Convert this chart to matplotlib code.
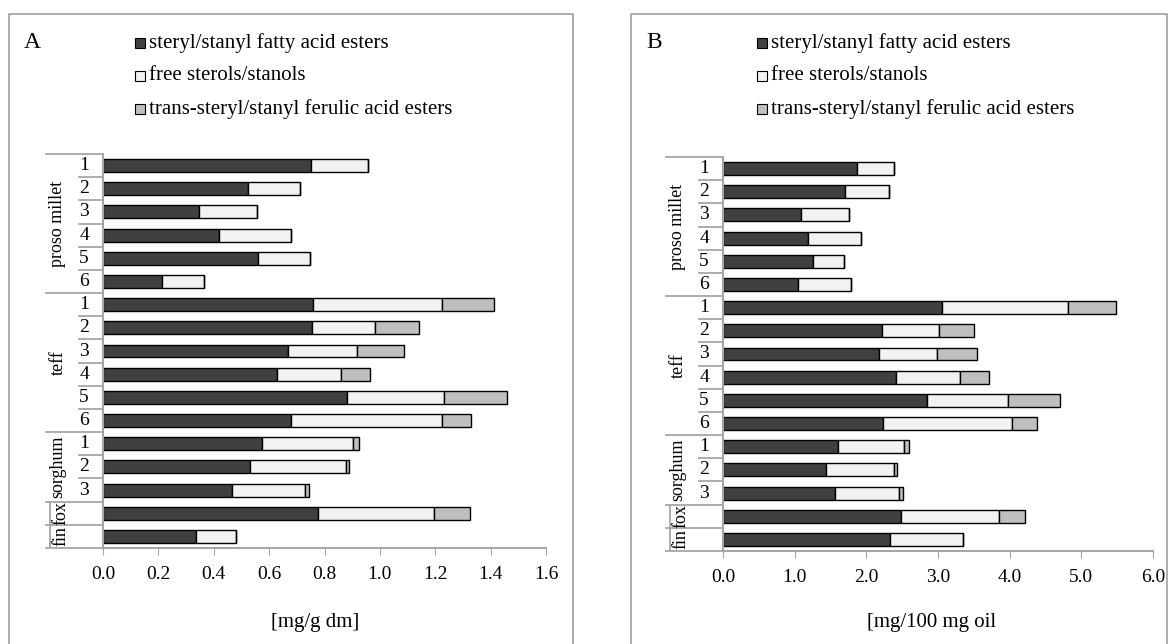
import matplotlib
matplotlib.use('Agg')
import matplotlib.pyplot as plt
from matplotlib.lines import Line2D
from matplotlib.patches import Rectangle

plt.rcParams['font.family'] = ['Liberation Serif', 'DejaVu Serif']

# categories (two-level axis, top to bottom)
groups = ['proso millet', 'teff', 'sorghum', 'fox', 'fin']
group_sizes = [6, 6, 3, 1, 1]
row_labels = ['1', '2', '3', '4', '5', '6',
              '1', '2', '3', '4', '5', '6',
              '1', '2', '3', '', '']

series_names = ['steryl/stanyl fatty acid esters',
                'free sterols/stanols',
                'trans-steryl/stanyl ferulic acid esters']
colors = ['#404040', '#f2f2f2', '#bfbfbf']

# panel A [mg/g dm]
a_esters = [0.750, 0.522, 0.345, 0.419, 0.560, 0.214,
            0.758, 0.755, 0.667, 0.629, 0.882, 0.679,
            0.574, 0.530, 0.465, 0.775, 0.335]
a_free = [0.207, 0.189, 0.211, 0.259, 0.189, 0.149,
          0.465, 0.228, 0.249, 0.230, 0.349, 0.544,
          0.329, 0.346, 0.263, 0.419, 0.146]
a_ferulic = [0, 0, 0, 0, 0, 0,
             0.190, 0.159, 0.171, 0.107, 0.227, 0.107,
             0.022, 0.013, 0.017, 0.132, 0]

# panel B [mg/100 mg oil]
b_esters = [1.867, 1.709, 1.090, 1.190, 1.250, 1.043,
            3.060, 2.220, 2.175, 2.420, 2.845, 2.235,
            1.606, 1.440, 1.565, 2.490, 2.330]
b_free = [0.517, 0.606, 0.670, 0.740, 0.436, 0.737,
          1.750, 0.790, 0.815, 0.890, 1.131, 1.795,
          0.924, 0.944, 0.895, 1.365, 1.020]
b_ferulic = [0, 0, 0, 0, 0, 0,
             0.680, 0.495, 0.550, 0.400, 0.724, 0.350,
             0.070, 0.046, 0.050, 0.355, 0]

W, H = 1169, 644
fig = plt.figure(figsize=(W / 100, H / 100), dpi=100)
GRAY = '#a6a6a6'


def px_rect(x0, y0, x1, y1):
    return [x0 / W, 1 - y1 / H, (x1 - x0) / W, (y1 - y0) / H]


def fig_line(xs, ys):
    fig.add_artist(Line2D([x / W for x in xs], [1 - y / H for y in ys],
                          color=GRAY, lw=1.3))


def draw_panel(box, axrect, series, ticks, ticklabels, xlabel, xlabel_x, letter):
    bx0, bx1 = box
    fig_line([bx0, bx0, bx1, bx1], [H + 5, 14, 14, H + 5])
    fig.text((bx0 + 15) / W, 1 - 43 / H, letter, fontsize=17, va='center', ha='left')

    # legend
    lx = bx0 + 126
    for k, (name, c) in enumerate(zip(series_names, colors)):
        ly = 43 + k * 33
        fig.add_artist(Rectangle(((lx) / W, 1 - (ly + 5) / H), 10 / W, 10 / H,
                                 facecolor=c, edgecolor='black', lw=0.8))
        fig.text((lx + 14) / W, 1 - ly / H, name, fontsize=15, va='center', ha='left')

    ax = fig.add_axes(px_rect(*axrect))
    n = len(row_labels)
    ys = list(range(n))
    left = [0] * n
    for vals, c in zip(series, colors):
        ax.barh(ys, vals, left=left, height=0.56, color=c, edgecolor='black', lw=1.0)
        left = [l + v for l, v in zip(left, vals)]

    ax.set_ylim(n - 0.5, -0.5)
    ax.set_xlim(ticks[0], ticks[-1])
    ax.set_xticks(ticks)
    ax.set_xticklabels(ticklabels, fontsize=14)
    ax.tick_params(axis='x', direction='out', length=5, color=GRAY, pad=8)
    ax.set_yticks([])
    for s in ['top', 'right']:
        ax.spines[s].set_visible(False)
    for s in ['left', 'bottom']:
        ax.spines[s].set_color(GRAY)
        ax.spines[s].set_linewidth(1.5)

    ax_w = axrect[2] - axrect[0]

    def fx(px):
        return px / ax_w

    tr = ax.get_yaxis_transform()
    # row numbers and separators
    for i, lab in enumerate(row_labels):
        ax.text(fx(-19), i, lab, transform=tr, ha='center', va='center', fontsize=14)
    bounds = [0]
    for g in group_sizes:
        bounds.append(bounds[-1] + g)
    for k in range(n + 1):
        start = -57 if k in bounds else -24
        ax.add_line(Line2D([fx(start), 0], [k - 0.5, k - 0.5], transform=tr,
                           color=GRAY, lw=1.3, clip_on=False))
    for g, s0, s1 in zip(groups, bounds[:-1], bounds[1:]):
        single = s1 - s0 == 1
        ax.text(fx(-42 if single else -45), (s0 + s1 - 1) / 2, g, transform=tr,
                rotation=90, ha='center', va='center', fontsize=13)
        if single:
            ax.add_line(Line2D([fx(-53), fx(-53)], [s0 - 0.45, s1 - 0.55], transform=tr,
                               color=GRAY, lw=1.3, clip_on=False))

    fig.text(xlabel_x / W, 1 - 623 / H, xlabel, fontsize=15, ha='center', va='center')
    return ax


draw_panel((9, 573), (103, 154, 546, 548), [a_esters, a_free, a_ferulic],
           [0, 0.2, 0.4, 0.6, 0.8, 1.0, 1.2, 1.4, 1.6],
           ['0.0', '0.2', '0.4', '0.6', '0.8', '1.0', '1.2', '1.4', '1.6'],
           '[mg/g dm]', 315, 'A')
draw_panel((631, 1167), (723, 157, 1153, 551), [b_esters, b_free, b_ferulic],
           [0, 1, 2, 3, 4, 5, 6],
           ['0.0', '1.0', '2.0', '3.0', '4.0', '5.0', '6.0'],
           '[mg/100 mg oil', 932, 'B')

fig.savefig('out.png', dpi=100)
